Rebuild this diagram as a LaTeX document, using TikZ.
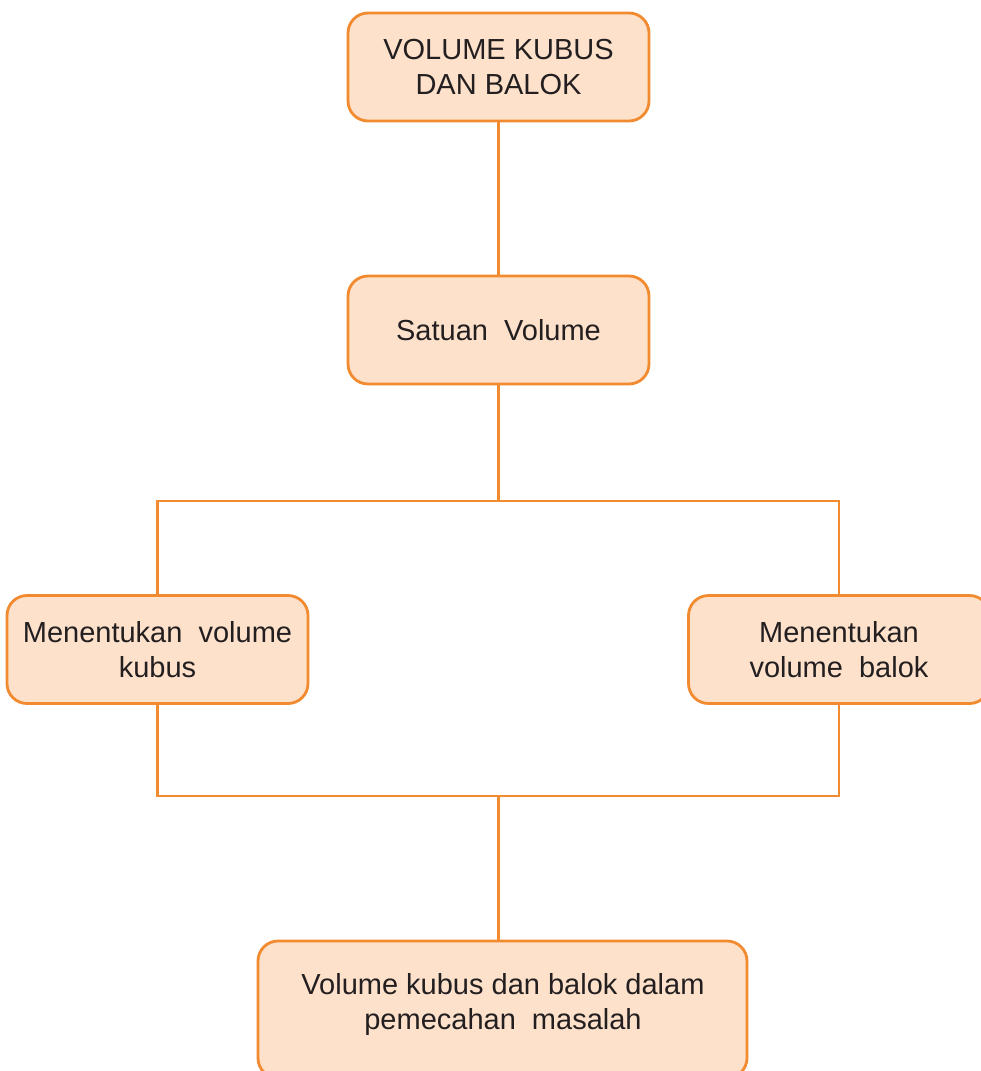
\documentclass[tikz,border=0pt]{standalone}
\usepackage{fontspec}
\setmainfont{Liberation Sans}
\definecolor{boxfill}{HTML}{FDE1CA}
\definecolor{boxline}{HTML}{F28A30}
\definecolor{txt}{HTML}{231F20}
\begin{document}
\begin{tikzpicture}[x=1pt,y=-1pt,
  box/.style={draw=boxline,fill=boxfill,line width=2.8pt,rounded corners=20pt,
    minimum width=301pt,minimum height=108pt,align=center,text=txt,
    font=\fontsize{29}{35}\selectfont,inner sep=0pt},
  lbl/.style={align=center,text=txt,font=\fontsize{29}{35}\selectfont,inner sep=0pt},
  conn/.style={draw=boxline,line width=2.2pt}]
\useasboundingbox (0,0) rectangle (981,1071);
\clip (0,0) rectangle (981,1071);
\node[box] (top) at (498.5,67) {VOLUME KUBUS\\DAN BALOK};
\node[box] (sat) at (498.5,330) {Satuan\ \ Volume};
\node[box] (left) at (157.5,649.5) {Menentukan\ \ volume\\kubus};
\node[box] (right) at (839,649.5) {Menentukan\\volume\ \ balok};
\node[box,minimum width=489pt,minimum height=137pt] (bot) at (502.5,1009.5) {};
\node[lbl] (botlbl) at (503,1004) {Volume kubus dan balok dalam\\pemecahan\ \ masalah};
\coordinate (j1) at (498.5,501);
\coordinate (j2) at (498.5,796);
\draw[conn] (top.south) -- (sat.north);
\draw[conn] (sat.south) -- (j1);
\draw[conn] (left.north) |- (j1) -| (right.north);
\draw[conn] (left.south) |- (j2) -| (right.south);
\draw[conn] (j2) -- (j2 |- bot.north);
\end{tikzpicture}
\end{document}
